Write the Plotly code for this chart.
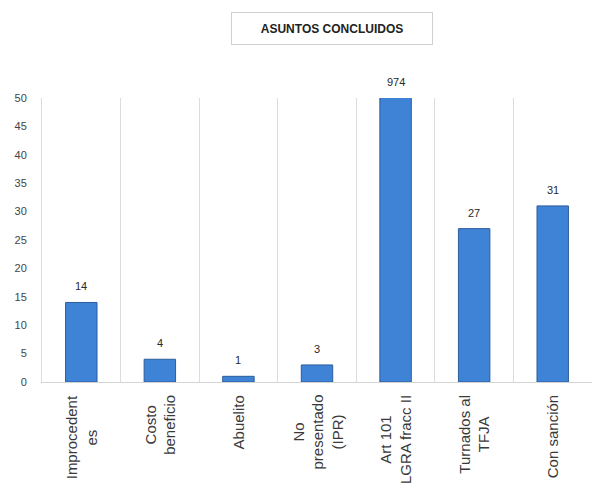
import plotly.graph_objects as go

# Concluded cases by category
categories = ["Improcedentes", "Costo beneficio", "Abuelito", "No presentado (IPR)",
              "Art 101 LGRA fracc II", "Turnados al TFJA", "Con sanción"]
category_labels = ["Improcedent<br>es", "Costo<br>beneficio", "Abuelito",
                   "No<br>presentado<br>(IPR)", "Art 101<br>LGRA fracc II",
                   "Turnados al<br>TFJA", "Con sanción"]
values = [14, 4, 1, 3, 974, 27, 31]
y_ticks = [0, 5, 10, 15, 20, 25, 30, 35, 40, 45, 50]
title_text = "ASUNTOS CONCLUIDOS"

y_max = y_ticks[-1]
label_font = "Liberation Sans, Arial, sans-serif"

fig = go.Figure(go.Bar(
    x=categories,
    y=values,
    width=0.4,
    marker=dict(color="#3f83d6", line=dict(color="#2b5c9c", width=1)),
    hoverinfo="x+y",
))

annotations = []
# value labels above each bar (capped at the top of the axis)
for cat, v in zip(categories, values):
    annotations.append(dict(
        x=cat, y=min(v, y_max), xref="x", yref="y",
        text=str(v), showarrow=False, yanchor="bottom", yshift=8,
        font=dict(family=label_font, size=11, color="#2a2a2a"),
    ))
# rotated category labels under the axis
for cat, lab in zip(categories, category_labels):
    annotations.append(dict(
        x=cat, y=0, xref="x", yref="paper",
        text=lab, showarrow=False, textangle=-90,
        xanchor="center", yanchor="top", yshift=-11, align="center",
        font=dict(family=label_font, size=15, color="#3a3a3a"),
    ))
# boxed title
annotations.append(dict(
    x=0.5, y=1.0, xref="paper", yref="paper", xanchor="center", yanchor="bottom",
    xshift=15, yshift=53,
    text="<b>" + title_text + "</b>", showarrow=False,
    width=198, height=29, bordercolor="#d0d0d0", borderwidth=1,
    font=dict(family=label_font, size=12, color="#222222"),
))

fig.update_layout(
    width=592, height=498,
    margin=dict(l=42, r=0, t=98, b=116),
    paper_bgcolor="white", plot_bgcolor="white",
    showlegend=False,
    annotations=annotations,
    xaxis=dict(
        type="category", showticklabels=False, ticks="",
        tickson="boundaries", showgrid=True, gridcolor="#dcdcdc", gridwidth=1,
        showline=True, linecolor="#d4d4d4", linewidth=1,
    ),
    yaxis=dict(
        range=[0, y_max], tickvals=y_ticks, showgrid=False, zeroline=False,
        showline=True, linecolor="#dcdcdc",
        tickfont=dict(family=label_font, size=11, color="#444444"),
        ticklabelstandoff=12,
    ),
)

fig.write_html("out.html")
